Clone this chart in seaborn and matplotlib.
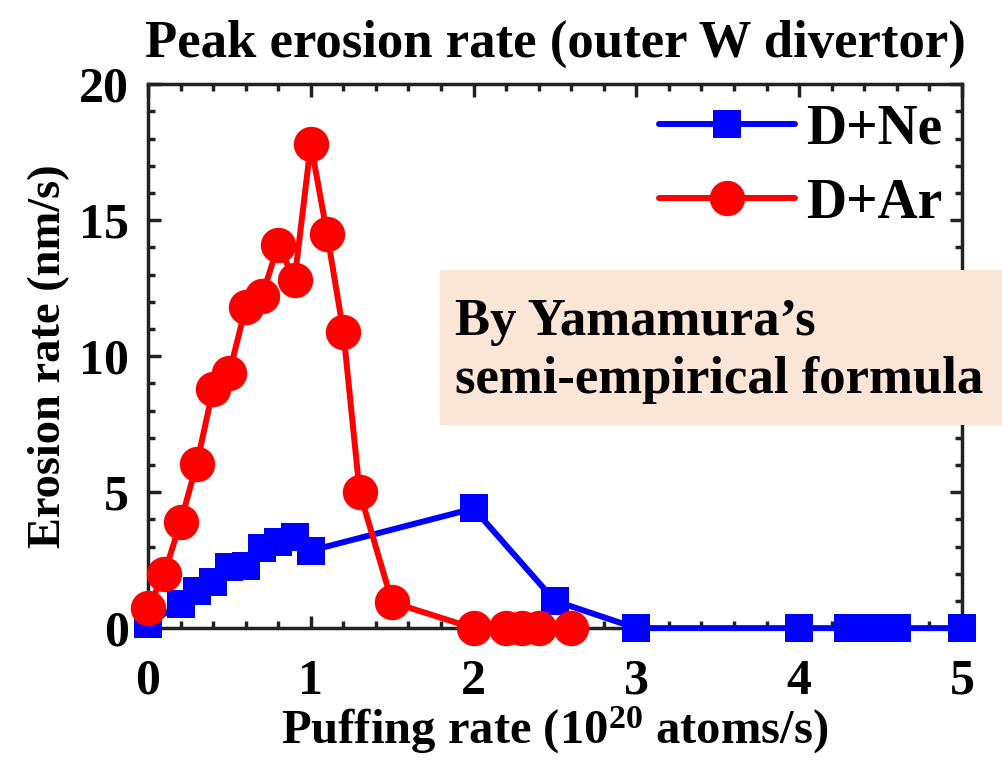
import matplotlib
matplotlib.use("Agg")
import matplotlib.pyplot as plt
import seaborn as sns
import pandas as pd
from matplotlib.ticker import MultipleLocator
from matplotlib.patches import Rectangle

# Data
ne_x = [0.0, 0.2, 0.3, 0.4, 0.5, 0.6, 0.7, 0.8, 0.9, 1.0, 2.0, 2.5, 3.0, 4.0, 4.3, 4.4, 4.5, 4.6, 5.0]
ne_y = [0.15, 0.9, 1.35, 1.7, 2.25, 2.3, 2.95, 3.15, 3.35, 2.85, 4.4, 1.0, 0.0, 0.0, 0.0, 0.0, 0.0, 0.0, 0.0]
ar_x = [0.0, 0.1, 0.2, 0.3, 0.4, 0.5, 0.6, 0.7, 0.8, 0.9, 1.0, 1.1, 1.2, 1.3, 1.5, 2.0, 2.2, 2.3, 2.4, 2.6]
ar_y = [0.75, 2.0, 3.9, 6.05, 8.8, 9.4, 11.8, 12.2, 14.1, 12.8, 17.8, 14.5, 10.9, 5.0, 0.95, 0.0, 0.0, 0.0, 0.0, 0.0]
series_names = ["D+Ne", "D+Ar"]
title = "Peak erosion rate (outer W divertor)"
xlabel = "Puffing rate (10$^{20}$ atoms/s)"
ylabel = "Erosion rate (nm/s)"
note = "By Yamamura\u2019s\nsemi-empirical formula"

sns.set_theme(style="ticks")
plt.rcParams["font.family"] = ["Liberation Serif", "DejaVu Serif"]
plt.rcParams["font.weight"] = "bold"
plt.rcParams["text.color"] = "black"
plt.rcParams["axes.labelcolor"] = "black"
plt.rcParams["xtick.color"] = "black"
plt.rcParams["ytick.color"] = "black"
plt.rcParams["mathtext.fontset"] = "custom"
plt.rcParams["mathtext.rm"] = "Liberation Serif:bold"
plt.rcParams["mathtext.bf"] = "Liberation Serif:bold"
plt.rcParams["mathtext.it"] = "Liberation Serif:bold"

fig = plt.figure(figsize=(10.03, 7.66), dpi=100)
ax = fig.add_axes([0.1476, 0.180, 0.959 - 0.1476, 0.710])

df_ne = pd.DataFrame({"x": ne_x, "y": ne_y})
df_ar = pd.DataFrame({"x": ar_x, "y": ar_y})

sns.lineplot(data=df_ne, x="x", y="y", ax=ax, color="#0000ff", marker="s",
             markersize=20, markeredgewidth=0, linewidth=4.3, label=series_names[0],
             sort=False, zorder=3, clip_on=False)
sns.lineplot(data=df_ar, x="x", y="y", ax=ax, color="#ff0000", marker="o",
             markersize=25.5, markeredgewidth=0, linewidth=4.3, label=series_names[1],
             sort=False, zorder=4, clip_on=False)

ax.set_xlim(0, 5)
ax.set_ylim(0, 20)
ax.xaxis.set_major_locator(MultipleLocator(1))
ax.xaxis.set_minor_locator(MultipleLocator(0.2))
ax.yaxis.set_major_locator(MultipleLocator(5))
ax.yaxis.set_minor_locator(MultipleLocator(1))
ax.tick_params(which="both", direction="in", top=True, right=True, color="#222222")
ax.tick_params(which="major", length=9, width=2.5, labelsize=36, labelcolor="black")
ax.tick_params(axis="x", which="major", pad=22)
ax.tick_params(axis="y", which="major", pad=14)
ax.tick_params(which="minor", length=5, width=2.5)
for s in ax.spines.values():
    s.set_linewidth(2.5)
    s.set_color("#222222")
for lab in ax.get_xticklabels() + ax.get_yticklabels():
    lab.set_fontweight("bold")

ax.set_title(title, fontsize=38, fontweight="bold", pad=20, color="black")
ax.set_xlabel(xlabel, fontsize=35, fontweight="bold", labelpad=0)
ax.set_ylabel(ylabel, fontsize=33.5, fontweight="bold", labelpad=6)

leg = ax.legend(loc="upper right", frameon=False, handlelength=2.45,
                borderaxespad=0.05, labelspacing=0.4, handletextpad=0.2,
                borderpad=0.3, prop={"weight": "bold", "size": 40})

fig.patches.append(Rectangle((440 / 1003, 1 - 425 / 766), 1 - 440 / 1003, 155 / 766,
                             transform=fig.transFigure, facecolor="#fbe5d6",
                             edgecolor="none", zorder=5))
fig.text(455 / 1003, 1 - 351 / 766, note, fontsize=38, fontweight="bold", ha="left",
         va="center", linespacing=1.25, zorder=6)

fig.savefig("out.png", dpi=100)
